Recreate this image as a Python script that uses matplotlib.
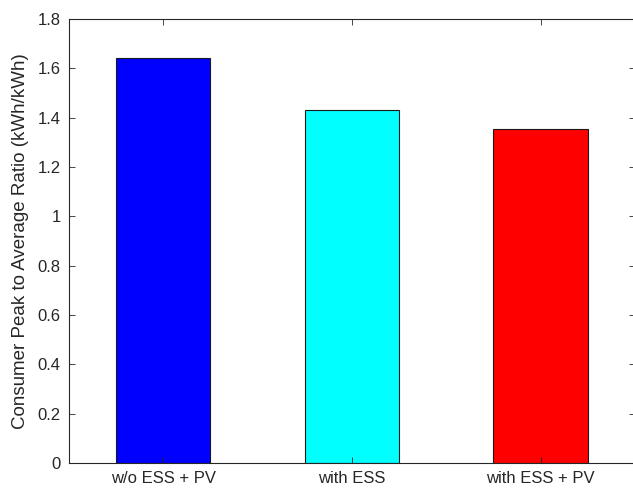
import matplotlib
matplotlib.use("Agg")
import matplotlib.pyplot as plt

categories = ["w/o ESS + PV", "with ESS", "with ESS + PV"]
values = [1.640, 1.432, 1.353]
colors = ["#0000ff", "#00ffff", "#ff0000"]
yticks = [0, 0.2, 0.4, 0.6, 0.8, 1, 1.2, 1.4, 1.6, 1.8]
ytick_labels = ["0", "0.2", "0.4", "0.6", "0.8", "1", "1.2", "1.4", "1.6", "1.8"]

plt.rcParams['font.family'] = ['Liberation Sans', 'DejaVu Sans']

fig = plt.figure(figsize=(6.33, 4.91), dpi=100)
ax = fig.add_axes([69/633, 28/491, 566/633, 444/491])
x = [1, 2, 3]
ax.bar(x, values, width=0.5, color=colors, edgecolor="#1a1a1a", linewidth=0.8)
ax.set_xlim(0.5, 3.5)
ax.set_ylim(0, 1.8)
ax.set_xticks(x)
ax.set_xticklabels(categories)
ax.set_yticks(yticks)
ax.set_yticklabels(ytick_labels)
ax.tick_params(direction="in", length=4, width=0.6, colors="#262626", labelsize=12,
               top=True, right=True, pad=6)
for s in ax.spines.values():
    s.set_color("#262626")
    s.set_linewidth(0.8)
ax.spines['right'].set_visible(False)
ax.set_ylabel("Consumer Peak to Average Ratio (kWh/kWh)", fontsize=13.5, color="#262626", labelpad=6)
fig.savefig("out.png", dpi=100)
